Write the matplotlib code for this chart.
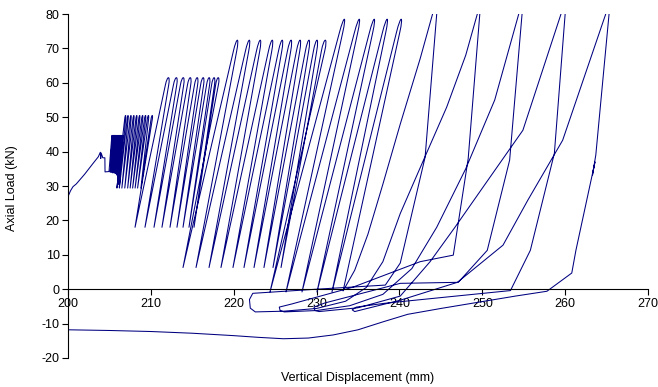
import matplotlib
matplotlib.use('Agg')
import numpy as np
import matplotlib.pyplot as plt
from matplotlib.path import Path
from matplotlib.patches import PathPatch

plt.rcParams['axes.unicode_minus'] = False

LINE_COLOR = '#000080'
FONT = ['Liberation Sans', 'DejaVu Sans']

# initial monotonic ramp (mm, kN)
ramp_x = [199.8, 200.0, 200.3, 200.6, 201.0, 202.0, 203.0, 203.66, 203.9, 203.95, 204.0, 204.2, 204.45, 204.47]
ramp_y = [26.2, 26.9, 28.6, 29.8, 30.6, 33.4, 36.5, 38.5, 39.8, 38.0, 39.6, 38.2, 38.2, 34.1]

# cyclic stages: one valley and one peak per cycle
c45_valley_x = [204.95, 205.1, 205.25, 205.4, 205.55, 205.7, 205.85, 206.0, 206.1, 206.2]
c45_valley_y = [34.2, 34.0, 34.0, 33.8, 33.8, 33.6, 33.2, 32.0, 30.5, 29.6]
c45_peak_x = [205.3, 205.45, 205.6, 205.75, 205.9, 206.05, 206.2, 206.35, 206.5, 206.6]
c45_peak_y = [44.8, 44.8, 44.8, 44.8, 44.8, 44.8, 44.8, 44.8, 44.8, 44.8]

c50_valley_x = [205.9, 206.2, 206.5, 206.85, 207.2, 207.5, 207.8, 208.1, 208.4, 208.8]
c50_valley_y = [29.4, 29.4, 29.4, 29.4, 29.4, 29.4, 29.4, 29.4, 29.4, 29.4]
c50_peak_x = [206.9, 207.2, 207.55, 207.9, 208.25, 208.6, 208.95, 209.3, 209.65, 210.1]
c50_peak_y = [50.5, 50.5, 50.5, 50.5, 50.5, 50.5, 50.5, 50.5, 50.5, 50.5]

c61_valley_x = [208.09, 209.29, 210.38, 211.34, 212.31, 213.15, 213.88, 214.60, 215.21]
c61_valley_y = [18.0, 18.0, 18.0, 18.0, 18.0, 18.0, 18.0, 18.0, 18.0]
c61_peak_x = [211.95, 212.92, 213.76, 214.61, 215.45, 216.18, 216.90, 217.50, 217.98]
c61_peak_y = [61.5, 61.5, 61.5, 61.5, 61.5, 61.5, 61.5, 61.5, 61.5]

c72_valley_x = [213.88, 215.45, 217.02, 218.46, 219.91, 221.24, 222.45, 223.65, 224.74, 225.71]
c72_valley_y = [6.3, 6.3, 6.3, 6.3, 6.3, 6.3, 6.3, 6.3, 6.3, 6.3]
c72_peak_x = [220.15, 221.60, 222.93, 224.38, 225.59, 226.67, 227.76, 228.84, 229.81, 230.77]
c72_peak_y = [72.4, 72.4, 72.4, 72.4, 72.4, 72.4, 72.4, 72.4, 72.4, 72.4]

c78_valley_x = [224.38, 226.31, 228.24, 230.05, 231.86]
c78_valley_y = [-0.8, -0.8, -0.8, -0.8, -0.8]
c78_peak_x = [232.95, 234.76, 236.57, 238.14, 239.83]
c78_peak_y = [78.5, 78.5, 78.5, 78.5, 78.5]

# large cycles past 80 kN (sparse logged points)
big1_x = [233.2, 234.6, 236.2, 238.0, 240.1, 242.5, 244.0, 244.3, 244.6, 244.5, 243.1, 240.1, 238.3, 230.0, 222.3, 221.9, 222.0, 222.6]
big1_y = [-0.5, 5.5, 16.0, 30.5, 48.0, 67.0, 80.0, 86.0, 86.0, 80.0, 38.4, 7.6, 1.2, 0.0, -1.2, -3.0, -5.5, -6.6]
big2_x = [226.0, 230.0, 233.5, 236.0, 238.0, 240.1, 243.1, 245.7, 248.0, 249.4, 249.6, 249.8, 249.7, 248.3, 246.5, 242.5, 234.4, 227.0, 225.5, 225.6, 226.1]
big2_y = [-6.4, -5.6, -3.5, 0.5, 8.0, 22.0, 38.6, 52.9, 68.0, 80.0, 86.0, 86.0, 80.0, 38.0, 9.9, 8.0, 0.6, -4.3, -5.2, -6.2, -6.6]
big3_x = [230.0, 234.0, 238.0, 241.5, 244.5, 248.0, 251.5, 254.4, 254.6, 254.9, 254.8, 253.3, 250.6, 247.1, 240.1, 231.0, 229.7, 229.8, 230.3]
big3_y = [-6.2, -4.8, -1.5, 6.0, 18.0, 35.0, 55.0, 80.0, 86.0, 86.0, 80.0, 37.5, 11.3, 2.0, 1.7, -4.0, -5.2, -6.2, -6.5]
big4_x = [235.0, 240.1, 243.7, 246.7, 250.1, 254.9, 259.5, 259.8, 260.1, 260.0, 258.7, 255.8, 253.4, 246.0, 238.2, 234.8, 234.3, 234.6]
big4_y = [-5.4, -2.0, 8.0, 18.0, 29.7, 46.2, 80.0, 86.0, 86.0, 80.0, 39.5, 11.3, -0.4, -2.2, -4.1, -5.2, -6.0, -6.5]
big5_x = [240.1, 247.0, 252.5, 255.5, 259.7, 264.9, 265.1, 265.4, 265.3, 263.7, 263.3, 263.6, 263.2, 261.3, 260.8,
          257.8, 254.0, 250.0, 245.0, 241.0, 238.0, 235.0, 232.0, 229.0, 226.0, 223.0, 220.0, 215.0, 210.0, 205.0,
          200.0, 198.0]
big5_y = [-3.2, 2.0, 12.8, 25.9, 43.3, 80.0, 86.0, 86.0, 80.0, 39.0, 33.2, 37.0, 32.5, 11.3, 4.7,
          -0.6, -2.0, -3.6, -5.6, -7.3, -9.5, -11.8, -13.3, -14.2, -14.4, -14.0, -13.5, -12.8, -12.3, -12.0,
          -11.8, -11.7]


def cycle_path(vx, vy, px, py, end):
    # straight loading / unloading branches joined by a small rounded cap at each peak
    verts, codes = [], []
    n = len(vx)
    for i in range(n):
        v = np.array([vx[i], vy[i]])
        p = np.array([px[i], py[i]])
        nxt = np.array([vx[i + 1], vy[i + 1]]) if i < n - 1 else np.array(end)
        w = min(0.4, 0.12 * (p[0] - v[0]))
        h = 0.05 * (p[1] - v[1])
        tl = np.array([p[0] - w / 2, p[1] - h])
        tr = np.array([p[0] + w / 2, p[1] - h])
        c1 = tl + 4 * h / 3 * (tl - v) / (tl[1] - v[1])
        c2 = tr + 4 * h / 3 * (tr - nxt) / (tr[1] - nxt[1])
        verts += [tuple(v), tuple(tl), tuple(c1), tuple(c2), tuple(tr)]
        codes += [Path.LINETO, Path.LINETO, Path.CURVE4, Path.CURVE4, Path.CURVE4]
    return verts, codes


fig = plt.figure(figsize=(6.58, 3.87), dpi=100)
ax = fig.add_axes([68 / 658, 1 - 358 / 387, 580 / 658, 344 / 387])

vx = c45_valley_x + c50_valley_x + c61_valley_x + c72_valley_x + c78_valley_x
vy = c45_valley_y + c50_valley_y + c61_valley_y + c72_valley_y + c78_valley_y
px = c45_peak_x + c50_peak_x + c61_peak_x + c72_peak_x + c78_peak_x
py = c45_peak_y + c50_peak_y + c61_peak_y + c72_peak_y + c78_peak_y

verts = list(zip(ramp_x, ramp_y))
codes = [Path.MOVETO] + [Path.LINETO] * (len(ramp_x) - 1)
cv, cc = cycle_path(vx, vy, px, py, end=(big1_x[0], big1_y[0]))
verts += cv
codes += cc
for bx, by in [(big1_x, big1_y), (big2_x, big2_y), (big3_x, big3_y), (big4_x, big4_y), (big5_x, big5_y)]:
    verts += list(zip(bx, by))
    codes += [Path.LINETO] * len(bx)

ax.add_patch(PathPatch(Path(verts, codes), fill=False, edgecolor=LINE_COLOR, lw=0.75, joinstyle='round'))

ax.set_xlim(200, 270)
ax.set_ylim(-20, 80)
ax.set_xticks(range(200, 271, 10))
ax.set_yticks(range(-20, 81, 10))
ax.spines['bottom'].set_position(('data', 0))
ax.spines['top'].set_visible(False)
ax.spines['right'].set_visible(False)
for s in ['left', 'bottom']:
    ax.spines[s].set_linewidth(0.8)
ax.set_axisbelow(True)
ax.tick_params(direction='out', length=4, width=0.8, labelsize=9, pad=2)
for lab in ax.get_xticklabels() + ax.get_yticklabels():
    lab.set_family(FONT)

fig.text(358 / 658, 1 - 378 / 387, 'Vertical Displacement (mm)', ha='center', va='center', fontsize=9, family=FONT)
fig.text(12 / 658, 1 - 188 / 387, 'Axial Load (kN)', ha='center', va='center', rotation=90, fontsize=9, family=FONT)

fig.savefig('out.png', dpi=100)
